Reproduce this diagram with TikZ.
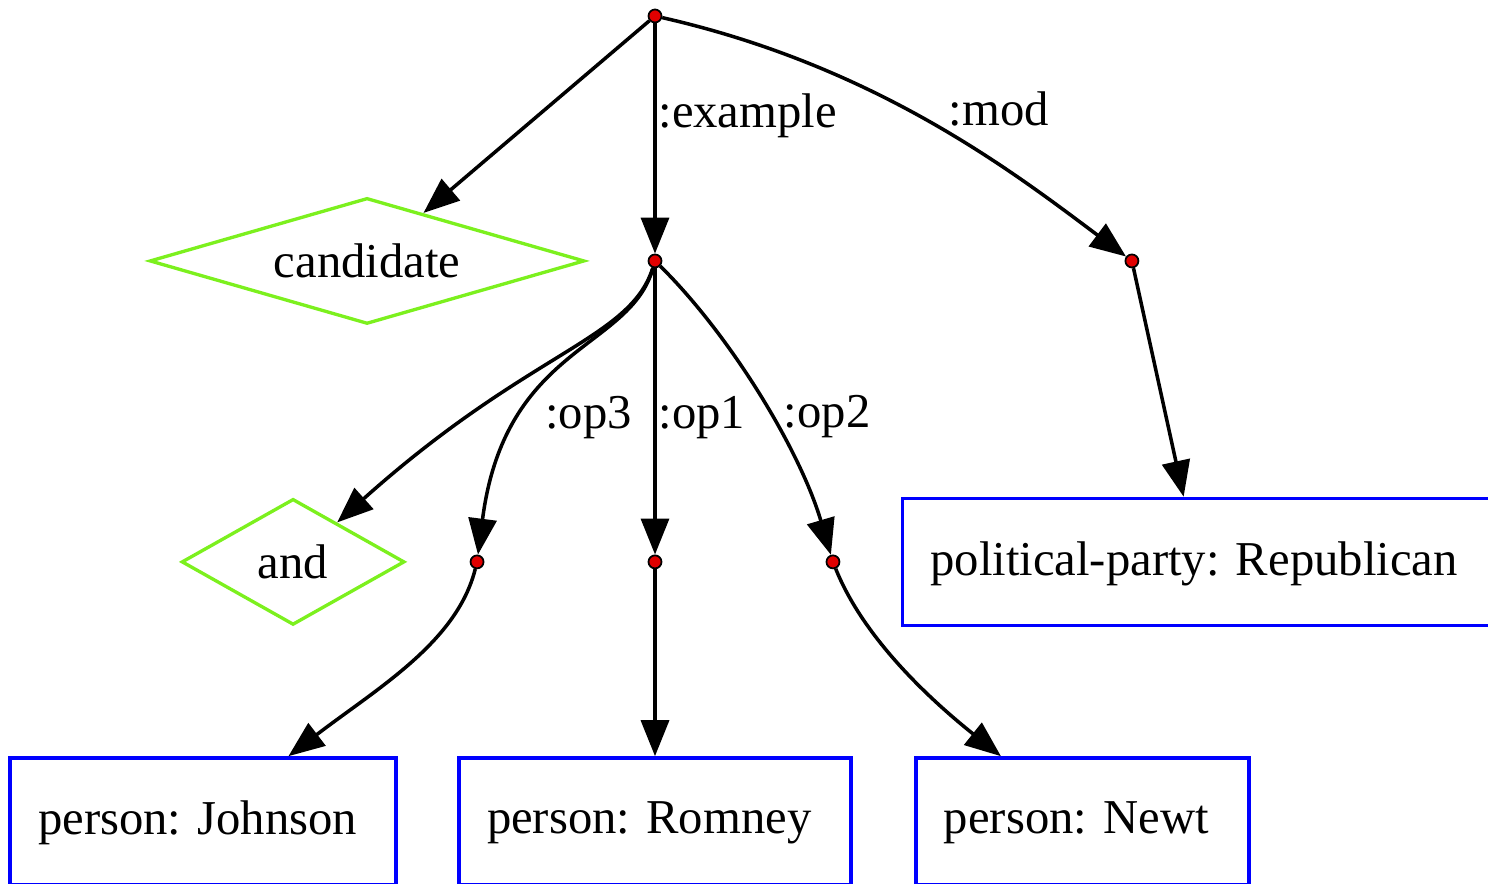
\documentclass[tikz,border=0pt]{standalone}
\usepackage{fontspec}
\setmainfont{Liberation Serif}
\usepackage{xcolor}
\definecolor{amrgreen}{RGB}{124,240,30}
\definecolor{amrblue}{RGB}{0,0,255}
\definecolor{amrred}{RGB}{225,0,0}
\usetikzlibrary{shapes.geometric, arrows.meta, positioning}
\tikzset{
  concept/.style={
    diamond, draw=amrgreen, line width=1.9pt,
    minimum height=2.52cm, inner sep=0pt,
    text centered, font=\fontsize{27.7}{32}\selectfont
  },
  entity/.style={
    rectangle, draw=amrblue, line width=1.9pt,
    minimum height=2.54cm, inner xsep=0.56cm, text depth=0.42em,
    align=left, font=\fontsize{27.7}{32}\selectfont\frenchspacing
  },
  dot/.style={
    circle, draw=black, fill=amrred, line width=1pt,
    minimum size=0.26cm, inner sep=0pt
  },
  rel/.style={line width=2pt, -{Triangle[length=0.72cm, width=0.56cm]}},
  role/.style={font=\fontsize{27.7}{32}\selectfont, inner sep=1pt},
}
\begin{document}
\begin{tikzpicture}[x=0.02cm, y=0.02cm, on grid]
  \useasboundingbox (0,0) rectangle (1488,-884);
  \node (root)    [dot] at (655,-16)                  {};
  \node (ex)      [dot,     below=4.9cm of root]      {};
  \node (mod)     [dot,     right=9.54cm of ex]       {};
  \node (cand)    [concept, aspect=3.45, minimum width=8.7cm, left=5.76cm of ex] {candidate};
  \node (op1)     [dot,     below=6.02cm of ex]       {};
  \node (op3)     [dot,     left=3.56cm of op1]       {};
  \node (op2)     [dot,     right=3.56cm of op1]      {};
  \node (and)     [concept, aspect=1.77, minimum width=4.46cm, left=3.68cm of op3] {and};
  \node (repub)   [entity,  text width=10.7cm, right=7.3cm of op2]   {political-party: Republican};
  \node (romney)  [entity,  text width=6.72cm, below=5.19cm of op1]  {person: Romney};
  \node (johnson) [entity,  text width=6.6cm,  left=9.04cm of romney] {person: Johnson};
  \node (newt)    [entity,  text width=5.54cm, right=8.55cm of romney] {person: Newt};

  \draw [rel] (root) -- (cand);
  \draw [rel] (root) -- node[role, pos=0.4, anchor=west] {:example} (ex);
  \draw [rel] (root) .. controls +(220,-50) and +(-120,90) .. (mod)
    node[role, pos=0.6, xshift=0.48cm, yshift=0.8cm] {:mod};
  \draw [rel] (ex) .. controls +(-25,-79) and +(237,212) .. (and);
  \draw [rel] (ex) .. controls +(-25,-89) and +(28,217) .. (op3)
    node[role, pos=0.75, xshift=1.5cm, yshift=0.3cm] {:op3};
  \draw [rel] (ex) -- node[role, pos=0.52, anchor=west] {:op1} (op1);
  \draw [rel] (ex) .. controls +(75,-74) and +(-33,112) .. (op2)
    node[role, pos=0.5, xshift=1.34cm, yshift=-0.4cm] {:op2};
  \draw [rel] (mod) -- (repub);
  \draw [rel] (op3) .. controls +(-20,-80) and +(175,133.5) .. (johnson);
  \draw [rel] (op1) -- (romney);
  \draw [rel] (op2) .. controls +(30,-75) and +(-154.5,123.5) .. (newt);
\end{tikzpicture}
\end{document}
